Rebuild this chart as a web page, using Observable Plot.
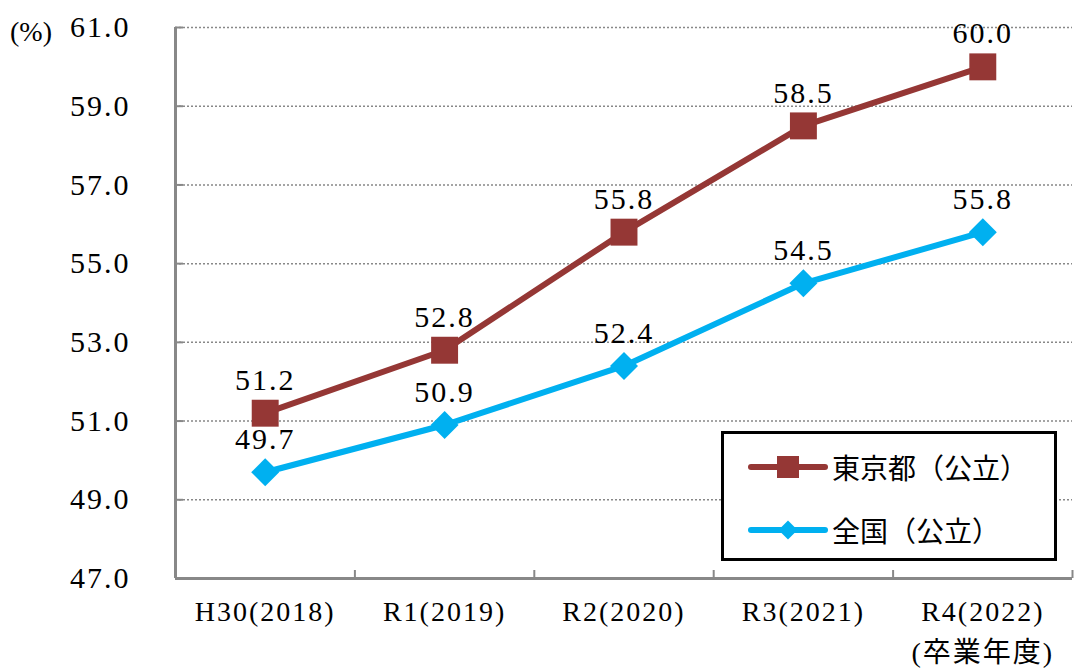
<!DOCTYPE html>
<html>
<head>
<meta charset="utf-8">
<script src="https://cdn.jsdelivr.net/npm/d3@7"></script>
<script src="https://cdn.jsdelivr.net/npm/@observablehq/plot@0.6"></script>
<style>
  body { margin: 0; background: #fff; }
  #wrap { position: relative; width: 1074px; height: 671px; font-family: "Liberation Serif", "Noto Sans CJK JP", serif; }
  #unit { position: absolute; left: 10px; top: 16px; font-size: 28px; }
  #legend { position: absolute; left: 721px; top: 431px; width: 330px; height: 124px; border: 3px solid #000; background: #fff; }
  .row { position: absolute; left: 0; height: 40px; display: flex; align-items: center; }
  .row span { font-size: 28px; margin-left: 4px; }
</style>
</head>
<body>
<div id="wrap">
  <div id="chart"></div>
  <div id="unit">(%)</div>
  <div id="legend"></div>
</div>
<script>
const categories = ["H30(2018)", "R1(2019)", "R2(2020)", "R3(2021)", "R4(2022)\n(卒業年度)"];
const tokyo = [51.2, 52.8, 55.8, 58.5, 60.0];
const national = [49.7, 50.9, 52.4, 54.5, 55.8];
const yTicks = [47, 49, 51, 53, 55, 57, 59, 61];
const seriesNames = ["東京都（公立）", "全国（公立）"];
const colors = ["#953735", "#00B0F0"];
const symbols = ["square", "diamond2"];

const series = [tokyo, national].map((vals, s) =>
  vals.map((v, i) => ({i, v, s: seriesNames[s]})));

const n = categories.length;
const bounds = d3.range(n + 1).map(i => i - 0.5);
const width = 1074, height = 671, mt = 27, mb = 93, ml = 175, mr = 2;
const ph = height - mt - mb, pw = width - ml - mr;

const marks = [
  Plot.gridY(yTicks, {stroke: "#888", strokeOpacity: 1, strokeDasharray: "2,2", strokeWidth: 1.5}),
  Plot.tickY(yTicks, {y: d => d, stroke: "#888", strokeWidth: 2, insetRight: pw - 8}),
  Plot.tickX(bounds, {x: d => d, stroke: "#888", strokeWidth: 2, insetTop: ph - 8}),
  Plot.ruleX([bounds[0]], {stroke: "#888", strokeWidth: 3}),
  Plot.ruleY([yTicks[0]], {stroke: "#888", strokeWidth: 3}),
  Plot.axisY(yTicks, {tickFormat: d3.format(".1f"), tickSize: 0, tickPadding: 45, fontSize: 30, label: null, fill: "#000"}),
  Plot.axisX(d3.range(n), {tickFormat: i => categories[i], tickSize: 0, tickPadding: 14, fontSize: 28, lineHeight: 1.45, label: null, fill: "#000"})
];
series.forEach((data, s) => {
  marks.push(Plot.line(data, {x: "i", y: "v", stroke: colors[s], strokeWidth: 6}));
  marks.push(Plot.dot(data, {x: "i", y: "v", symbol: symbols[s], r: s === 0 ? 15.2 : 12.6, fill: colors[s], stroke: "none"}));
  marks.push(Plot.text(data, {x: "i", y: "v", text: d => d.v.toFixed(1), dy: -33, fontSize: 30, fill: "#000"}));
});

const chart = Plot.plot({
  width, height,
  marginTop: mt, marginBottom: mb, marginLeft: ml, marginRight: mr,
  x: {type: "linear", domain: [bounds[0], bounds[n]]},
  y: {type: "linear", domain: [yTicks[0], yTicks[yTicks.length - 1]]},
  style: {fontFamily: '"Liberation Serif", "Noto Sans CJK JP", serif', letterSpacing: "2px", background: "#fff", overflow: "visible"},
  marks
});
document.getElementById("chart").appendChild(chart);

// Legend
const legend = d3.select("#legend");
seriesNames.forEach((name, s) => {
  const row = legend.append("div").attr("class", "row").style("top", (s === 0 ? 13 : 76) + "px").style("left", "24px");
  const svg = row.append("svg").attr("width", 80).attr("height", 40);
  svg.append("line").attr("x1", 3).attr("x2", 77).attr("y1", 20).attr("y2", 20)
    .attr("stroke", colors[s]).attr("stroke-width", 6).attr("stroke-linecap", "round");
  svg.append("path").attr("transform", "translate(40,20)")
    .attr("d", d3.symbol(s === 0 ? d3.symbolSquare : d3.symbolDiamond2, s === 0 ? 484 : 230)())
    .attr("fill", colors[s]);
  row.append("span").text(name);
});
</script>
</body>
</html>
